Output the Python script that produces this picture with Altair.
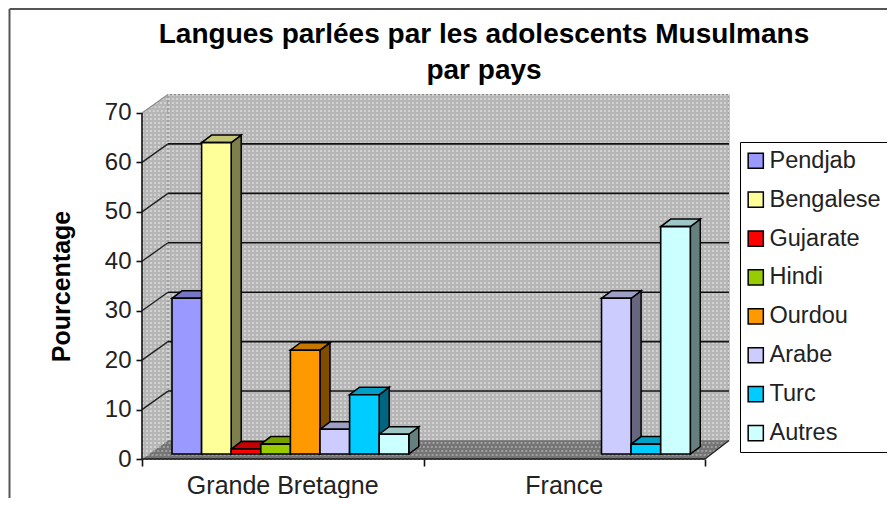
import altair as alt
import pandas as pd

# ---- chart values -------------------------------------------------
languages = ["Pendjab", "Bengalese", "Gujarate", "Hindi", "Ourdou", "Arabe", "Turc", "Autres"]
countries = ["Grande Bretagne", "France"]
gb_values = [31.5, 63, 1, 2, 21, 5, 12, 4]
fr_values = [None, None, None, None, None, 31.5, 2, 46]
colors = ["#9999FF", "#FFFF99", "#FF0000", "#99CC00", "#FF9900", "#CCCCFF", "#00CCFF", "#CCFFFF"]
y_ticks = [0, 10, 20, 30, 40, 50, 60, 70]
title_lines = ["Langues parlées par les adolescents Musulmans", "par pays"]
y_title = "Pourcentage"

# ---- geometry, in scale units -------------------------------------
W, H = 587, 364
PX_X = 1 / 281.5      # one pixel in x units (one unit = one country)
PX_Y = 1 / 4.943      # one pixel in y units (percent)
X_MAX = W * PX_X
Y_MAX = H * PX_Y
WALL_DX, WALL_DY = 26 * PX_X, 18.5 * PX_Y
BAR_W = 29.6 * PX_X
BAR_DX, BAR_DY = 10 * PX_X, 7.5 * PX_Y
BAR_X0 = 30 * PX_X
BASE = 5 * PX_Y


def shade(hex_color, k):
    r, g, b = (int(hex_color[i:i + 2], 16) for i in (1, 3, 5))
    return "#%02X%02X%02X" % (int(r * k), int(g * k), int(b * k))


front, side, top = [], [], []
for c, (country, vals) in enumerate(zip(countries, [gb_values, fr_values])):
    for i, (lang, v) in enumerate(zip(languages, vals)):
        if v is None:
            continue
        xl = c + BAR_X0 + i * BAR_W
        xr = xl + BAR_W
        yb, yt = BASE, BASE + v
        bar_id = f"{c}-{i}"
        front.append(dict(lang=lang, x=xl, x2=xr, y=yt, y2=yb))
        side.append(dict(id=bar_id, fill=shade(colors[i], 0.5), x=xr, y=yt, y2=yb))
        side.append(dict(id=bar_id, fill=shade(colors[i], 0.5), x=xr + BAR_DX, y=yt + BAR_DY, y2=yb + BAR_DY))
        for px, py, py2 in [
            (xl, yt, yt),
            (xl + BAR_DX, yt + BAR_DY, yt),
            (xr, yt + BAR_DY, yt),
            (xr + BAR_DX, yt + BAR_DY, yt + BAR_DY),
        ]:
            top.append(dict(id=bar_id, fill=shade(colors[i], 0.78), x=px, y=py, y2=py2))

front, side, top = map(pd.DataFrame, (front, side, top))

x_scale = alt.Scale(domain=[0, X_MAX], nice=False, zero=False)
y_scale = alt.Scale(domain=[0, Y_MAX], nice=False, zero=False)
x_axis = alt.Axis(values=[0, 1, 2], labels=False, domain=False, grid=False, title=None,
                  tickColor="#111111", tickSize=7, tickWidth=1.6)
y_axis = alt.Axis(values=y_ticks, domain=False, grid=False, tickColor="#111111",
                  tickSize=6, tickWidth=1.6, labelPadding=5, labelFontSize=24,
                  labelColor="#222222", labelFont="Liberation Sans",
                  title=y_title, titleFont="Liberation Sans", titleFontSize=25,
                  titleFontWeight="bold", titleColor="black",
                  titleX=-68, titleY=191)


def X(f="x"):
    return alt.X(f"{f}:Q", scale=x_scale, axis=x_axis)


def Y(f="y"):
    return alt.Y(f"{f}:Q", scale=y_scale, axis=y_axis, stack=None)


WALL = "#B6B6B6"
WALL_DOT = "#D2D2D2"
FLOOR = "#747474"
FLOOR_DOT = "#A0A0A0"
EDGE = "#8C8C8C"

# back wall
back_wall = alt.Chart(pd.DataFrame([dict(x=WALL_DX, x2=X_MAX, y=WALL_DY, y2=70 + WALL_DY)])).mark_rect(
    color=WALL, stroke=EDGE, strokeWidth=1
).encode(X(), x2="x2:Q", y=Y(), y2="y2:Q")

# left wall
left_wall = alt.Chart(pd.DataFrame([
    dict(x=0, y=70, y2=0), dict(x=WALL_DX, y=70 + WALL_DY, y2=WALL_DY)
])).mark_area(color=WALL, orient="vertical").encode(X(), Y(), y2="y2:Q")

# floor
floor = alt.Chart(pd.DataFrame([
    dict(x=0, y=0, y2=0),
    dict(x=WALL_DX, y=WALL_DY, y2=0),
    dict(x=2, y=WALL_DY, y2=0),
    dict(x=X_MAX, y=WALL_DY, y2=WALL_DY),
])).mark_area(color=FLOOR, orient="vertical").encode(X(), Y(), y2="y2:Q")

# dither of the walls and of the floor: rows of dots
rows, floor_rows = [], []
STEP = 4 * PX_Y
n = 0
while n * STEP < 70 + WALL_DY:
    v = n * STEP
    if v >= WALL_DY:
        rows.append(dict(v=v, x=WALL_DX, x2=X_MAX))
    lo = max(0.0, (v - 70) / WALL_DY) * WALL_DX
    hi = min(1.0, v / WALL_DY) * WALL_DX
    if hi > lo:
        rows.append(dict(v=v, x=lo, x2=hi))
    if v < WALL_DY:
        f = v / WALL_DY
        floor_rows.append(dict(v=v, x=f * WALL_DX, x2=2 + f * (X_MAX - 2)))
    n += 1
dots = alt.Chart(pd.DataFrame(rows)).mark_rule(color=WALL_DOT, strokeWidth=2, strokeDash=[2, 2]).encode(
    X(), x2="x2:Q", y=Y("v")
)
floor_dots = alt.Chart(pd.DataFrame(floor_rows)).mark_rule(color=FLOOR_DOT, strokeWidth=2, strokeDash=[2, 2]).encode(
    X(), x2="x2:Q", y=Y("v")
)

# gridlines on the back wall and left wall
grid_df = pd.DataFrame([dict(v=v + WALL_DY, x=WALL_DX, x2=X_MAX) for v in y_ticks[1:-1]])
grid = alt.Chart(grid_df).mark_rule(color="#111111", strokeWidth=1.6).encode(X(), x2="x2:Q", y=Y("v"))
diag_df = pd.DataFrame([dict(x=0, x2=WALL_DX, y=v, y2=v + WALL_DY) for v in y_ticks[1:-1]])
diag = alt.Chart(diag_df).mark_rule(color="#222222", strokeWidth=1.4).encode(
    X(), x2="x2:Q", y=Y(), y2="y2:Q"
)
top_edge = alt.Chart(pd.DataFrame([dict(x=0, x2=WALL_DX, y=70, y2=70 + WALL_DY)])).mark_rule(
    color=EDGE, strokeWidth=1.2
).encode(X(), x2="x2:Q", y=Y(), y2="y2:Q")
floor_right = alt.Chart(pd.DataFrame([dict(x=2, x2=X_MAX, y=0, y2=WALL_DY)])).mark_rule(
    color="#222222", strokeWidth=1.3
).encode(X(), x2="x2:Q", y=Y(), y2="y2:Q")

y_line = alt.Chart(pd.DataFrame([dict(x=0, y=0, y2=70)])).mark_rule(color="#111111", strokeWidth=1.6).encode(
    X(), y=Y(), y2="y2:Q"
)
x_line = alt.Chart(pd.DataFrame([dict(x=0, x2=2, y=0)])).mark_rule(color="#111111", strokeWidth=1.6).encode(
    X(), x2="x2:Q", y=Y()
)

# bars
sides = alt.Chart(side).mark_area(orient="vertical", stroke="black", strokeWidth=1.5).encode(
    X(), Y(), y2="y2:Q", fill=alt.Fill("fill:N", scale=None), detail="id:N"
)
tops = alt.Chart(top).mark_area(orient="vertical", stroke="black", strokeWidth=1.5).encode(
    X(), Y(), y2="y2:Q", fill=alt.Fill("fill:N", scale=None), detail="id:N"
)
fronts = alt.Chart(front).mark_rect(stroke="black", strokeWidth=1.6).encode(
    X(), x2="x2:Q", y=Y(), y2="y2:Q",
    color=alt.Color("lang:N", scale=alt.Scale(domain=languages, range=colors),
                    legend=alt.Legend(title=None, orient="none", legendX=598, legendY=47,
                                      fillColor="white", strokeColor="black", padding=7,
                                      symbolType="square", symbolSize=230, symbolStrokeColor="black",
                                      symbolStrokeWidth=1.5, symbolOffset=-3, labelFont="Liberation Sans",
                                      labelFontSize=23.5, labelColor="#222222", rowPadding=13.9,
                                      labelOffset=2)),
)

# category labels
cat_df = pd.DataFrame(dict(name=countries, x=[0.5, 1.5]))
cats = alt.Chart(cat_df).mark_text(font="Liberation Sans", fontSize=25, color="#222222", baseline="middle").encode(
    X(), y=alt.value(391), text="name:N"
)

# title, two lines
title_df = pd.DataFrame(dict(line=title_lines, row=[-60, -24]))
title = alt.Chart(title_df).mark_text(font="Liberation Sans", fontSize=28, fontWeight="bold", color="black",
                                      baseline="middle", align="center").encode(
    x=alt.value(342), y=alt.value(0), yOffset=alt.YOffset("row:Q", scale=None), text="line:N"
)

# outer frame
frame_l = alt.Chart(pd.DataFrame([dict(a=1)])).mark_rule(color="#555555", strokeWidth=2).encode(
    x=alt.value(-132.5), y=alt.value(-86), y2=alt.value(420)
)
frame_t = alt.Chart(pd.DataFrame([dict(a=1)])).mark_rule(color="#555555", strokeWidth=2).encode(
    y=alt.value(-86), x=alt.value(-132.5), x2=alt.value(760)
)

chart = alt.layer(
    frame_l, frame_t, left_wall, back_wall, floor, dots, floor_dots, grid, diag, top_edge, floor_right,
    y_line, x_line, sides, tops, fronts, cats, title,
).properties(
    width=W, height=H,
    autosize=alt.AutoSizeParams(type="none"),
    padding={"left": 134, "top": 87, "right": 158, "bottom": 39},
    background="white",
).configure_view(stroke=None)

chart.save("out.html", embed_options={"renderer": "svg", "actions": False})
